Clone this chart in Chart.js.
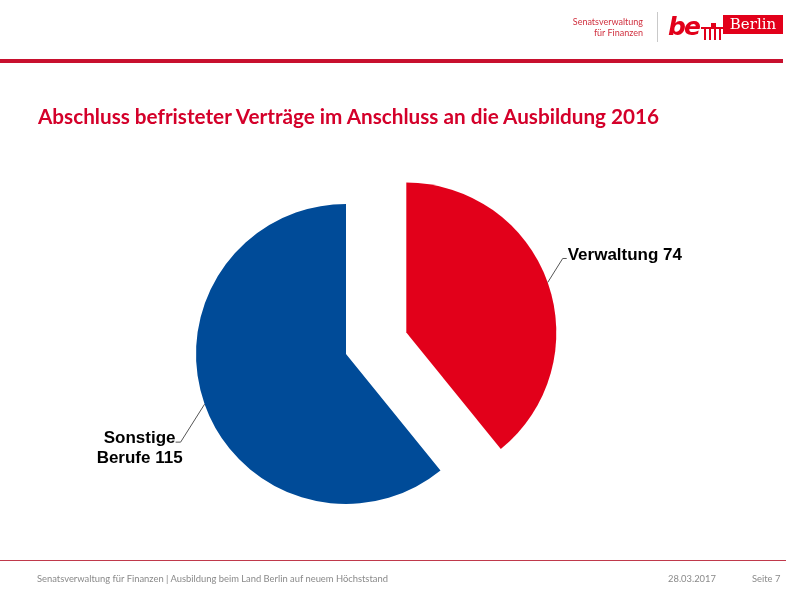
<!DOCTYPE html>
<html>
<head>
<meta charset="utf-8">
<script src="https://cdn.jsdelivr.net/npm/chart.js@4/dist/chart.umd.min.js"></script>
<style>
  body { margin: 0; background: #fff; }
  #folie { position: relative; width: 800px; height: 600px; overflow: hidden; font-family: Lato, "Open Sans", sans-serif; }
  #grafik { position: absolute; left: 0; top: 0; }
  .abs { position: absolute; white-space: nowrap; }
  #senat { right: 157px; top: 16px; font-size: 9px; line-height: 11px; color: #d0303f; text-align: right; }
  #trenner { left: 657px; top: 12px; width: 1px; height: 30px; background: #c9c9c9; }
  #be { left: 668px; top: 12px; font: italic bold 25px "DejaVu Sans", sans-serif; color: #e2001a; letter-spacing: -2px; }
  .saeule { position: absolute; top: 29px; width: 2px; height: 11px; background: #e2001a; }
  #balken { left: 701px; top: 27px; width: 27px; height: 2px; background: #e2001a; }
  #spitze { left: 711px; top: 23px; width: 5px; height: 4px; background: #e2001a; }
  #berlinbox { left: 723px; top: 15px; width: 60px; height: 19px; background: #e2001a; color: #fff; font: 15px "DejaVu Serif", serif; line-height: 19px; text-align: center; }
  #kopflinie { left: 0; top: 59px; width: 783px; height: 4px; background: #c8102e; }
  #titel { left: 38px; top: 104px; font-size: 20.7px; font-weight: bold; color: #d4002a; }
  #fusslinie { left: 0; top: 560px; width: 786px; height: 1px; background: #c0394b; }
  .fuss { top: 573px; font-size: 9.4px; color: #8a8a8a; }
</style>
</head>
<body>
<div id="folie">
  <canvas id="grafik" width="800" height="600"></canvas>
  <div class="abs" id="senat">Senatsverwaltung<br>für Finanzen</div>
  <div class="abs" id="trenner"></div>
  <div class="abs" id="be">be</div>
  <div class="abs" id="spitze"></div>
  <div class="abs" id="balken"></div>
  <div class="saeule" style="left:704px"></div>
  <div class="saeule" style="left:709px"></div>
  <div class="saeule" style="left:714px"></div>
  <div class="saeule" style="left:719px"></div>
  <div class="abs" id="berlinbox">Berlin</div>
  <div class="abs" id="kopflinie"></div>
  <div class="abs" id="titel">Abschluss befristeter Verträge im Anschluss an die Ausbildung 2016</div>
  <div class="abs" id="fusslinie"></div>
  <div class="abs fuss" style="left:37px">Senatsverwaltung für Finanzen | Ausbildung beim Land Berlin auf neuem Höchststand</div>
  <div class="abs fuss" style="left:668px">28.03.2017</div>
  <div class="abs fuss" style="left:752px">Seite 7</div>
</div>
<script>
// Daten
const kategorien = ['Verwaltung', 'Sonstige Berufe'];
const werte = [74, 115];
const beschriftungen = [['Verwaltung 74'], ['Sonstige', 'Berufe 115']];
const farben = ['#e2001a', '#004b98'];
// herausgezogenes Segment (Pixel)
const herausgezogen = [64, 0];

// Segment nach außen verschieben, ohne den Radius zu verändern
const explodePlugin = {
    id: 'explode',
    afterDatasetUpdate(chart, args) {
        const meta = chart.getDatasetMeta(args.index);
        meta.data.forEach((b, i) => {
            const d = herausgezogen[i] || 0;
            if (!d) return;
            const mitte = (b.startAngle + b.endAngle) / 2;
            b.x += Math.cos(mitte) * d;
            b.y += Math.sin(mitte) * d;
        });
    }
};

// Beschriftung mit Führungslinie
const etikettPlugin = {
    id: 'etiketten',
    afterDatasetsDraw(chart) {
        const ctx = chart.ctx;
        const bogen = chart.getDatasetMeta(0).data;
        ctx.save();
        ctx.font = 'bold 17px "Liberation Sans", Arial, sans-serif';
        ctx.fillStyle = '#000';
        ctx.strokeStyle = '#555';
        ctx.lineWidth = 1;
        bogen.forEach((b, i) => {
            const p = b.getProps(['x', 'y', 'startAngle', 'endAngle', 'outerRadius']);
            const mitte = (p.startAngle + p.endAngle) / 2;
            const rx = p.x + Math.cos(mitte) * p.outerRadius;
            const ry = p.y + Math.sin(mitte) * p.outerRadius;
            const rechts = Math.cos(mitte) > 0;
            const kx = rx + (rechts ? 15 : -24);
            const ky = ry + (rechts ? -24 : 38);
            const ex = kx + (rechts ? 4 : -5);
            ctx.beginPath();
            ctx.moveTo(rx, ry);
            ctx.lineTo(kx, ky);
            ctx.lineTo(ex, ky);
            ctx.stroke();
            const zeilen = beschriftungen[i];
            ctx.textBaseline = 'middle';
            if (rechts) {
                ctx.textAlign = 'left';
                ctx.fillText(zeilen[0], ex + 1, ky - 3);
            } else {
                ctx.textAlign = 'center';
                const mx = ex - 36;
                zeilen.forEach((z, j) => ctx.fillText(z, mx, ky - 4 + j * 20));
            }
        });
        ctx.restore();
    }
};

new Chart(document.getElementById('grafik'), {
    type: 'pie',
    data: {
        labels: kategorien,
        datasets: [{
            data: werte,
            backgroundColor: farben,
            borderWidth: 0
        }]
    },
    options: {
        responsive: false,
        animation: false,
        radius: 150,
        layout: { padding: { left: 0, right: 108, top: 108, bottom: 0 } },
        plugins: {
            legend: { display: false },
            tooltip: { enabled: false }
        }
    },
    plugins: [explodePlugin, etikettPlugin]
});
</script>
</body>
</html>
